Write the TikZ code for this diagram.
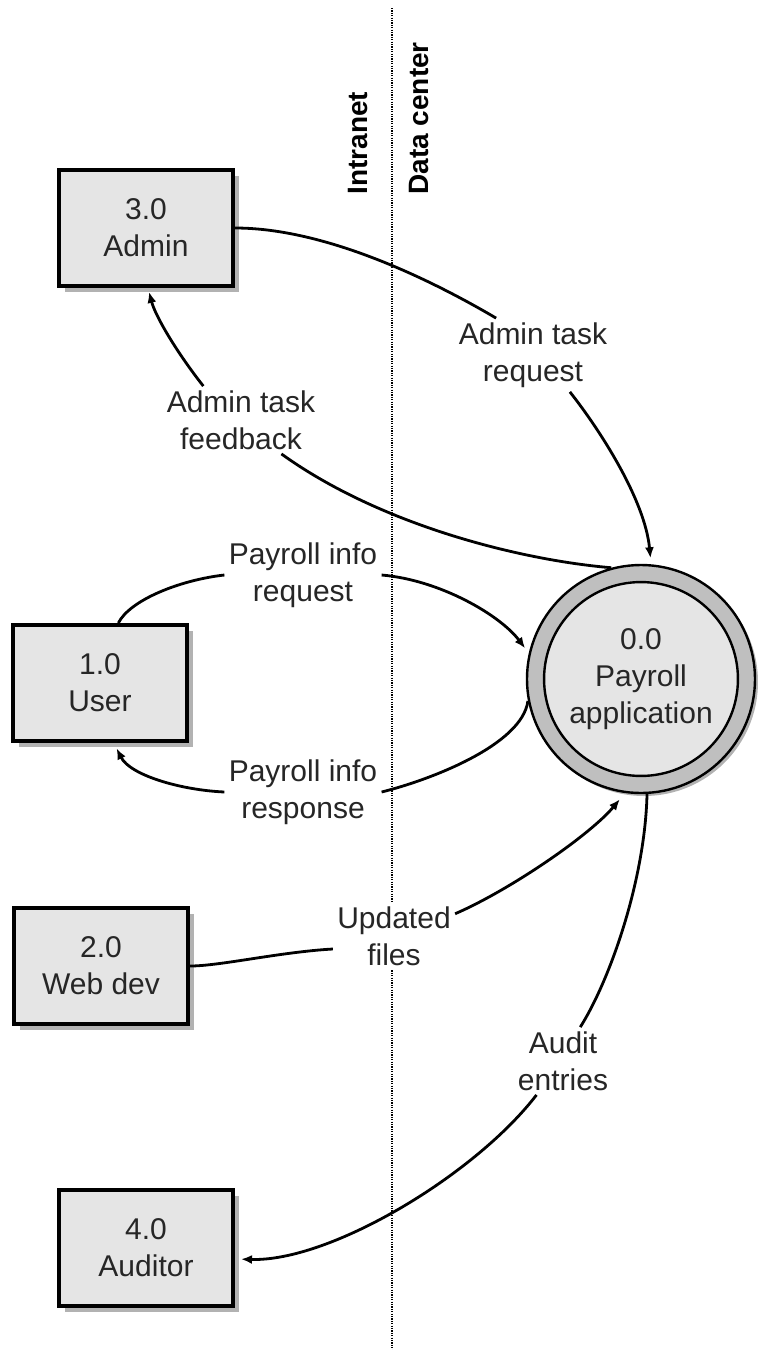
\documentclass[tikz,border=0pt]{standalone}
\usepackage{fontspec}
\setmainfont{Liberation Sans}
\usetikzlibrary{arrows.meta}
\usetikzlibrary{shadows}

\begin{document}
\begin{tikzpicture}[x=0.5pt,y=-0.5pt]
		\tikzset{entity/.style = {shape=rectangle,draw,line width=2pt,fill=black!10,
				minimum width=87pt,minimum height=58pt,align=center,text=black!85,
				font=\fontsize{15}{18.5}\selectfont,
				drop shadow={shadow xshift=3pt,shadow yshift=-3pt,fill=black!30,opacity=1}}}
		\tikzset{flowtext/.style = {fill=white,inner sep=2pt,align=center,text=black!85,
				font=\fontsize{15}{18.5}\selectfont}}
		\tikzset{zone/.style = {font=\fontsize{14}{16}\selectfont\bfseries,inner sep=0pt}}
		\tikzset{flow/.style = {line width=1.4pt}}
		\tikzset{flowto/.style = {flow,->,> = {Latex[length=5.5pt,width=4.5pt]}}}
		\useasboundingbox (0,0) rectangle (757,1350);
		% boundary
		\coordinate (linetop) at (392,8);
		\coordinate (linebot) at (392,1350);
		\draw[line width=1pt,dash pattern=on 0.6pt off 0.6pt] (linetop) -- (linebot);
		\node[zone,rotate=90,anchor=base west] (intranet) at (367,195) {Intranet};
		\node[zone,rotate=90,anchor=base west] (datacenter) at (428,195) {Data center};
		% external entities
		\node[entity] (admin) at (146,228) {3.0\\Admin};
		\node[entity] (user) at (100,683) {1.0\\User};
		\node[entity] (webdev) at (101,966) {2.0\\Web dev};
		\node[entity] (auditor) at (146,1248) {4.0\\Auditor};
		% process
		\node[circle,draw,line width=1.2pt,fill=black!25,minimum size=114pt,
			drop shadow={shadow xshift=1.5pt,shadow yshift=-1.5pt,fill=black!30,opacity=1}] (app) at (641,679) {};
		\node[circle,draw,line width=1.2pt,fill=black!10,minimum size=95pt,align=center,
			text=black!85,font=\fontsize{15}{18.5}\selectfont] (appin) at (641,679) {0.0\\Payroll\\application};
		% flow labels
		\node[flowtext] (req) at (533,355) {Admin task\\request};
		\node[flowtext] (fb) at (241,420) {Admin task\\feedback};
		\node[flowtext] (pireq) at (303,575) {Payroll info\\request};
		\node[flowtext] (piresp) at (303,792) {Payroll info\\response};
		\node[flowtext] (upd) at (394,936) {Updated\\files};
		\node[flowtext] (aud) at (563,1061) {Audit\\entries};
		% flows
		\draw[flow] (admin.east) .. controls (330,228) and (440,285) .. (req.135);
		\draw[flowto,shorten >=3pt] (req.-45) .. controls (600,430) and (645,500) .. (app.85);
		\draw[flow] (app.105) .. controls (520,560) and (380,525) .. (fb.-40);
		\draw[flowto,shorten >=2pt] (fb.138) .. controls (175,350) and (155,315) .. (admin.-88);
		\draw[flow] (user.73) .. controls (130,600) and (180,580) .. (pireq.west);
		\draw[flowto,shorten >=3pt] (pireq.east) .. controls (440,580) and (500,615) .. (app.167);
		\draw[flow] (app.191) .. controls (522,745) and (430,780) .. (piresp.east);
		\draw[flowto,shorten >=3pt] (piresp.west) .. controls (180,790) and (130,775) .. (user.-77);
		\draw[flow] (webdev.east) .. controls (220,966) and (280,952) .. (upd.192);
		\draw[flowto,shorten >=4pt] (upd.20) .. controls (510,890) and (590,835) .. (app.-98);
		\draw[flow] (app.-87) .. controls (645,880) and (610,980) .. (aud.63);
		\draw[flowto,shorten >=3pt] (aud.-128) .. controls (475,1175) and (330,1262) .. (auditor.-7);
\end{tikzpicture}
\end{document}
